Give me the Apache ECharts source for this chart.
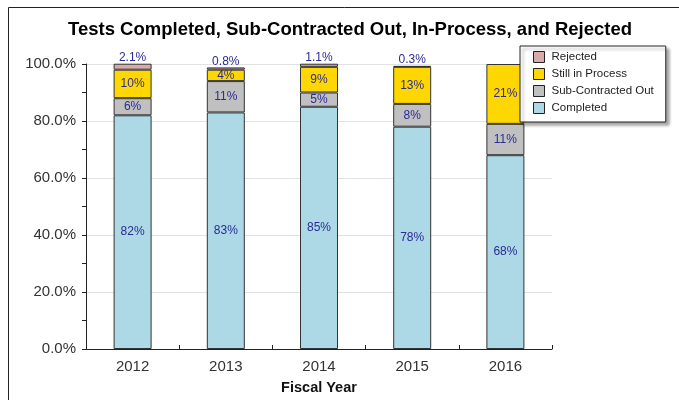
<!DOCTYPE html>
<html lang="en">
<head>
    <meta charset="UTF-8">
    <title>Tests Completed</title>
    <script src="https://cdn.jsdelivr.net/npm/echarts@6/dist/echarts.min.js"></script>
    <style>
        html, body { margin: 0; padding: 0; background: #fff; }
        #chart { width: 679px; height: 400px; }
    </style>
</head>
<body>
    <div id="chart"></div>
    <script>
        // Datos
        const years = ['2012', '2013', '2014', '2015', '2016'];
        const completed = [82, 83, 85, 78, 68];
        const subContracted = [6, 11, 5, 8, 11];
        const inProcess = [10, 4, 9, 13, 21];
        const rejected = [2.1, 0.8, 1.1, 0.3, 0.2];
        const yTicks = [0, 20, 40, 60, 80, 100];

        const font = 'Liberation Sans, Arial, sans-serif';
        const labelColor = '#2b2b96';

        function barSeries(name, data, color, pos) {
            return {
                name: name,
                type: 'bar',
                stack: 'total',
                barWidth: 38,
                data: data,
                itemStyle: { color: color, borderColor: '#333', borderWidth: 1 },
                label: {
                    show: true,
                    position: pos,
                    distance: 0,
                    color: labelColor,
                    fontFamily: font,
                    fontSize: 12,
                    formatter: p => p.value + '%'
                }
            };
        }

        var myChart = echarts.init(document.getElementById('chart'));

        var option = {
            animation: false,
            textStyle: { fontFamily: font },
            title: {
                text: 'Tests Completed, Sub-Contracted Out, In-Process, and Rejected',
                left: 63,
                top: 15,
                textStyle: { fontSize: 18.5, fontWeight: 'bold', color: '#000', fontFamily: font }
            },
            graphic: [{
                type: 'rect',
                left: 6, top: 5,
                shape: { width: 690, height: 393 },
                style: { fill: 'none', stroke: '#222', lineWidth: 1 },
                silent: true
            }],
            legend: {
                orient: 'vertical',
                left: 520,
                top: 46,
                padding: [5, 12, 8, 13],
                icon: 'rect',
                itemWidth: 11,
                itemHeight: 11,
                itemGap: 5,
                backgroundColor: '#fff',
                borderColor: '#222',
                borderWidth: 1,
                shadowColor: 'rgba(0,0,0,0.35)',
                shadowBlur: 3,
                shadowOffsetX: 3,
                shadowOffsetY: 3,
                data: ['Rejected', 'Still in Process', 'Sub-Contracted Out', 'Completed'],
                itemStyle: { borderColor: '#222', borderWidth: 1 },
                textStyle: { fontSize: 11.5, color: '#222', fontFamily: font, padding: [0, 0, 0, 2] }
            },
            grid: { left: 86, right: 127, top: 64, bottom: 50 },
            xAxis: {
                type: 'category',
                data: years,
                name: 'Fiscal Year',
                nameLocation: 'middle',
                nameGap: 31,
                nameTextStyle: { fontSize: 14.5, fontWeight: 'bold', color: '#111', fontFamily: font },
                axisLine: { lineStyle: { color: '#222' } },
                axisTick: { show: true, inside: true, length: 4, lineStyle: { color: '#222' } },
                axisLabel: { fontSize: 15, color: '#333', margin: 10, fontFamily: font }
            },
            yAxis: {
                type: 'value',
                min: yTicks[0],
                max: yTicks[yTicks.length - 1],
                interval: 20,
                axisLine: { show: true, lineStyle: { color: '#222' } },
                axisTick: { show: true, length: 4, lineStyle: { color: '#222' } },
                minorTick: { show: true, splitNumber: 2, length: 4, lineStyle: { color: '#222' } },
                splitLine: { show: true, lineStyle: { color: '#e2e2e2' } },
                axisLabel: {
                    fontSize: 15, color: '#333', margin: 10, fontFamily: font,
                    formatter: v => v.toFixed(1) + '%'
                }
            },
            series: [
                barSeries('Completed', completed, '#add8e6', 'inside'),
                barSeries('Sub-Contracted Out', subContracted, '#c0c0c0', 'inside'),
                barSeries('Still in Process', inProcess, '#ffd700', 'inside'),
                barSeries('Rejected', rejected, '#d9aaaa', 'top')
            ]
        };

        myChart.setOption(option);
    </script>
</body>
</html>
